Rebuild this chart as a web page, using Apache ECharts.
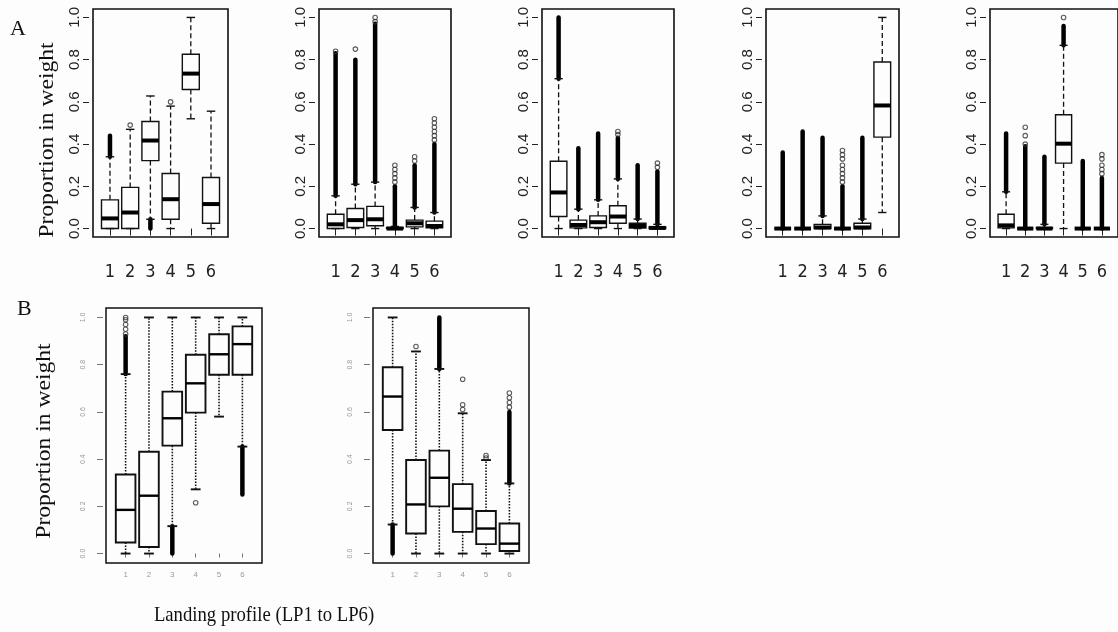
<!DOCTYPE html>
<html>
<head>
<meta charset="utf-8">
<script src="https://cdn.jsdelivr.net/npm/echarts@6/dist/echarts.min.js"></script>
<style>
html,body{margin:0;padding:0;background:#fdfdfd;}
#chart{width:1118px;height:632px;}
</style>
</head>
<body>
<div id="chart"></div>
<script>
// ---------- DATA ----------
const categories = [1, 2, 3, 4, 5, 6];
const yTicks = [0, 0.2, 0.4, 0.6, 0.8, 1.0];

// boxes: [lowerWhisker, Q1, median, Q3, upperWhisker] per landing profile
const boxesA1 = [[0,0,0.048,0.136,0.34],[0,0,0.076,0.195,0.47],[0.044,0.322,0.417,0.507,0.628],[0,0.044,0.139,0.261,0.58],[0.52,0.659,0.734,0.826,1.0],[0,0.025,0.116,0.242,0.556]];
const denseA1 = [[1,0.34,0.44],[3,0,0.044]];
const pointsA1 = [[2,0.49],[4,0.60]];

const boxesA2 = [[0,0,0.02,0.068,0.155],[0,0.005,0.04,0.095,0.21],[0,0.013,0.044,0.105,0.22],[0,0,0,0.005,0.01],[0,0.008,0.025,0.04,0.10],[0,0.003,0.012,0.035,0.076]];
const denseA2 = [[1,0.155,0.83],[2,0.21,0.80],[3,0.22,0.97],[4,0.01,0.20],[5,0.10,0.30],[6,0.076,0.40]];
const pointsA2 = [[1,0.84],[2,0.85],[3,0.98],[3,1.0],[4,0.22],[4,0.24],[4,0.26],[4,0.28],[4,0.30],[5,0.32],[5,0.34],[6,0.42],[6,0.44],[6,0.46],[6,0.48],[6,0.50],[6,0.52]];

const boxesA3 = [[0,0.057,0.171,0.319,0.71],[0,0.003,0.017,0.04,0.092],[0,0.005,0.03,0.06,0.136],[0,0.025,0.057,0.108,0.235],[0,0.002,0.012,0.025,0.045],[0,0,0.003,0.008,0.02]];
const denseA3 = [[1,0.71,1.0],[2,0.092,0.38],[3,0.136,0.45],[4,0.235,0.43],[5,0.045,0.30],[6,0.02,0.27]];
const pointsA3 = [[4,0.445],[4,0.46],[6,0.29],[6,0.31]];

const boxesA4 = [[0,0,0,0,0],[0,0,0,0,0],[0,0,0.005,0.02,0.06],[0,0,0,0,0],[0,0,0.005,0.025,0.045],[0.076,0.433,0.583,0.789,1.0]];
const denseA4 = [[1,0,0.36],[2,0,0.46],[3,0.06,0.43],[4,0,0.20],[5,0.045,0.43]];
const pointsA4 = [[4,0.22],[4,0.24],[4,0.26],[4,0.28],[4,0.30],[4,0.33],[4,0.35],[4,0.37]];

const boxesA5 = [[0,0.003,0.015,0.068,0.174],[0,0,0,0,0],[0,0,0,0.005,0.02],[0,0.31,0.402,0.539,0.868],[0,0,0,0,0],[0,0,0,0,0]];
const denseA5 = [[1,0.174,0.45],[2,0,0.39],[3,0.02,0.34],[4,0.868,0.96],[5,0,0.32],[6,0,0.24]];
const pointsA5 = [[2,0.40],[2,0.44],[2,0.48],[4,1.0],[6,0.26],[6,0.28],[6,0.30],[6,0.33],[6,0.35]];

const boxesB1 = [[0,0.047,0.185,0.335,0.76],[0,0.028,0.245,0.431,1.0],[0.116,0.457,0.573,0.686,1.0],[0.272,0.597,0.721,0.842,1.0],[0.58,0.757,0.844,0.929,1.0],[0.453,0.757,0.887,0.962,1.0]];
const denseB1 = [[1,0.76,0.92],[3,0,0.116],[6,0.25,0.453]];
const pointsB1 = [[1,0.93],[1,0.95],[1,0.97],[1,0.99],[1,1.0],[4,0.215]];

const boxesB2 = [[0.123,0.523,0.665,0.789,1.0],[0,0.085,0.208,0.396,0.856],[0,0.2,0.321,0.436,0.782],[0,0.092,0.19,0.294,0.594],[0,0.04,0.106,0.18,0.396],[0,0.011,0.042,0.127,0.297]];
const denseB2 = [[1,0,0.123],[3,0.782,1.0],[6,0.297,0.60]];
const pointsB2 = [[2,0.877],[4,0.61],[4,0.63],[4,0.738],[5,0.405],[5,0.415],[6,0.62],[6,0.64],[6,0.66],[6,0.68]];

const panelLabels = ['A', 'B'];
const yTitle = 'Proportion in weight';
const xTitle = 'Landing profile (LP1 to LP6)';

// ---------- LAYOUT / STYLE ----------
const panels = [
  {boxes: boxesA1, dense: denseA1, points: pointsA1, grid: {left: 93, top: 9, width: 135, height: 228}, kind: 'A'},
  {boxes: boxesA2, dense: denseA2, points: pointsA2, grid: {left: 319, top: 9, width: 132, height: 228}, kind: 'A'},
  {boxes: boxesA3, dense: denseA3, points: pointsA3, grid: {left: 542, top: 9, width: 132, height: 228}, kind: 'A'},
  {boxes: boxesA4, dense: denseA4, points: pointsA4, grid: {left: 766, top: 9, width: 133, height: 228}, kind: 'A'},
  {boxes: boxesA5, dense: denseA5, points: pointsA5, grid: {left: 990, top: 9, width: 132, height: 228}, kind: 'A'},
  {boxes: boxesB1, dense: denseB1, points: pointsB1, grid: {left: 106, top: 308, width: 156, height: 255}, kind: 'B'},
  {boxes: boxesB2, dense: denseB2, points: pointsB2, grid: {left: 373, top: 308, width: 156, height: 255}, kind: 'B'}
];

const styles = {
  A: {boxW: 1.4, medW: 4, whiskDash: [5, 3], whiskW: 1.3, frame: 1.6},
  B: {boxW: 1.9, medW: 2.4, whiskDash: [1.5, 1.5], whiskW: 1.6, frame: 1.5}
};

function boxRenderer(st) {
  return function (params, api) {
    const x = api.value(0);
    const lo = api.coord([x, api.value(1)]);
    const q1 = api.coord([x, api.value(2)]);
    const md = api.coord([x, api.value(3)]);
    const q3 = api.coord([x, api.value(4)]);
    const hi = api.coord([x, api.value(5)]);
    const bw = api.size([0.84, 0])[0];
    const h = bw / 2, c = bw / 4;
    const cx = lo[0];
    const ls = {stroke: '#111', lineWidth: st.whiskW, lineDash: st.whiskDash, fill: null};
    const sol = {stroke: '#111', lineWidth: st.boxW, fill: null};
    return {
      type: 'group',
      children: [
        {type: 'line', shape: {x1: cx, y1: q3[1], x2: cx, y2: hi[1]}, style: ls},
        {type: 'line', shape: {x1: cx, y1: q1[1], x2: cx, y2: lo[1]}, style: ls},
        {type: 'line', shape: {x1: cx - c, y1: hi[1], x2: cx + c, y2: hi[1]}, style: sol},
        {type: 'line', shape: {x1: cx - c, y1: lo[1], x2: cx + c, y2: lo[1]}, style: sol},
        {type: 'rect', shape: {x: cx - h, y: q3[1], width: bw, height: q1[1] - q3[1]}, style: {stroke: '#111', lineWidth: st.boxW, fill: 'rgba(255,255,255,0)'}},
        {type: 'line', shape: {x1: cx - h, y1: md[1], x2: cx + h, y2: md[1]}, style: {stroke: '#000', lineWidth: st.medW}}
      ]
    };
  };
}

function denseRenderer(params, api) {
  const x = api.value(0);
  const a = api.coord([x, api.value(1)]);
  const b = api.coord([x, api.value(2)]);
  return {
    type: 'line',
    shape: {x1: a[0], y1: a[1], x2: b[0], y2: b[1]},
    style: {stroke: '#000', lineWidth: 4.5, lineCap: 'round'}
  };
}

const narrow = 'Liberation Sans Narrow, DejaVu Sans Condensed, Liberation Sans, Arial, sans-serif';
const grids = [], xAxes = [], yAxes = [], series = [];
panels.forEach((p, i) => {
  const isA = p.kind === 'A';
  const st = styles[p.kind];
  grids.push(Object.assign({show: true, borderColor: '#111', borderWidth: st.frame, backgroundColor: 'transparent'}, p.grid));
  xAxes.push({
    type: 'value', gridIndex: i, min: 0.16, max: 6.84,
    offset: isA ? 4 : 2,
    splitLine: {show: false}, axisLine: {show: false},
    axisTick: {show: true, customValues: categories, length: isA ? 7 : 4, lineStyle: {color: isA ? '#222' : '#777', width: 1}},
    axisLabel: {show: true, customValues: categories, margin: isA ? 22 : 6,
      fontSize: isA ? 18 : 8, color: isA ? '#222' : '#999', fontFamily: isA ? narrow : 'Liberation Sans, Arial, sans-serif'}
  });
  yAxes.push({
    type: 'value', gridIndex: i, min: -0.04, max: 1.04,
    offset: isA ? 4 : 3,
    splitLine: {show: false}, axisLine: {show: false},
    axisTick: {show: true, customValues: yTicks, length: 6, lineStyle: {color: isA ? '#222' : '#777', width: 1}},
    axisLabel: {show: true, customValues: yTicks, rotate: 90, margin: isA ? 7 : 16,
      formatter: v => v.toFixed(1),
      fontSize: isA ? 15 : 7, color: isA ? '#222' : '#999', fontFamily: 'Liberation Sans, Arial, sans-serif'}
  });
  series.push({
    type: 'custom', xAxisIndex: i, yAxisIndex: i, silent: true, z: 3,
    renderItem: denseRenderer, encode: {x: 0, y: [1, 2]},
    data: p.dense
  });
  series.push({
    type: 'scatter', xAxisIndex: i, yAxisIndex: i, silent: true, z: 3,
    symbol: 'circle', symbolSize: 4.5,
    itemStyle: {color: 'rgba(0,0,0,0)', borderColor: '#333', borderWidth: 1.1},
    data: p.points
  });
  series.push({
    type: 'custom', xAxisIndex: i, yAxisIndex: i, silent: true, z: 4,
    renderItem: boxRenderer(st), encode: {x: 0, y: [1, 2, 3, 4, 5]},
    data: p.boxes.map((b, k) => [categories[k]].concat(b))
  });
});

const serif = 'Liberation Serif, Times New Roman, serif';
const graphic = [
  {type: 'text', left: 10, top: 18, style: {text: panelLabels[0], font: '22px ' + serif, fill: '#111'}},
  {type: 'text', left: 17, top: 298, style: {text: panelLabels[1], font: '22px ' + serif, fill: '#111'}},
  {type: 'text', x: 48, y: 140, rotation: Math.PI / 2, scaleX: 1.18, style: {text: yTitle, font: '20px ' + serif, fill: '#111', align: 'center', verticalAlign: 'middle'}},
  {type: 'text', x: 45, y: 441, rotation: Math.PI / 2, scaleX: 1.18, style: {text: yTitle, font: '20px ' + serif, fill: '#111', align: 'center', verticalAlign: 'middle'}},
  {type: 'text', x: 264, y: 615, scaleX: 0.85, style: {text: xTitle, font: '22px ' + serif, fill: '#111', align: 'center', verticalAlign: 'middle'}}
];

const chart = echarts.init(document.getElementById('chart'), null, {renderer: 'canvas'});
chart.setOption({
  backgroundColor: '#fdfdfd',
  animation: false,
  grid: grids, xAxis: xAxes, yAxis: yAxes, series: series, graphic: graphic
});
</script>
</body>
</html>
